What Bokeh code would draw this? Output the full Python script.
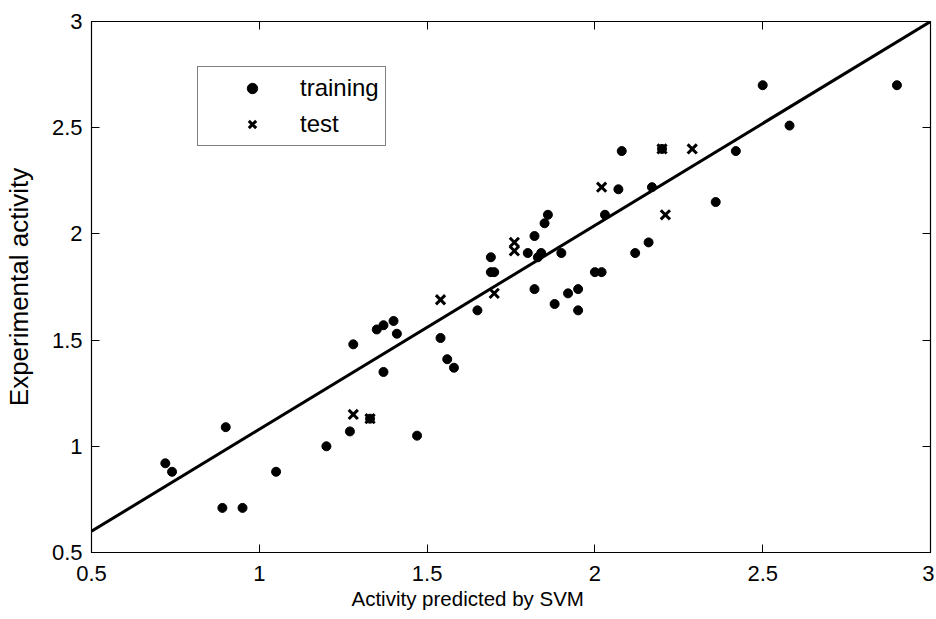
from bokeh.plotting import figure
from bokeh.models import (Range1d, LinearAxis, FixedTicker, Legend, LegendItem, Title, CustomJSTickFormatter)
from bokeh.embed import file_html
from bokeh.resources import INLINE

train_x = [0.72, 0.74, 0.89, 0.95, 0.90, 1.05, 1.20, 1.27, 1.28, 1.35, 1.37, 1.40, 1.41, 1.37,
           1.47, 1.54, 1.56, 1.58, 1.65, 1.69, 1.69, 1.70, 1.80, 1.82, 1.82, 1.83, 1.84, 1.85,
           1.86, 1.90, 1.88, 1.92, 1.95, 1.95, 2.00, 2.02, 2.03, 2.07, 2.08, 2.12, 2.16, 2.17,
           2.36, 2.42, 2.50, 2.58, 2.90, 1.33, 2.20]
train_y = [0.92, 0.88, 0.71, 0.71, 1.09, 0.88, 1.00, 1.07, 1.48, 1.55, 1.57, 1.59, 1.53, 1.35,
           1.05, 1.51, 1.41, 1.37, 1.64, 1.89, 1.82, 1.82, 1.91, 1.99, 1.74, 1.89, 1.91, 2.05,
           2.09, 1.91, 1.67, 1.72, 1.74, 1.64, 1.82, 1.82, 2.09, 2.21, 2.39, 1.91, 1.96, 2.22,
           2.15, 2.39, 2.70, 2.51, 2.70, 1.13, 2.40]
test_x = [1.28, 1.33, 1.54, 1.70, 1.76, 1.76, 2.02, 2.20, 2.21, 2.29]
test_y = [1.15, 1.13, 1.69, 1.72, 1.96, 1.92, 2.22, 2.40, 2.09, 2.40]
fit_x = [0.5, 3.0]
fit_y = [0.6, 3.0]
ticks = [0.5, 1.0, 1.5, 2.0, 2.5, 3.0]

FONT = "Liberation Sans"

p = figure(width=934, height=616, output_backend="svg", toolbar_location=None,
           x_range=Range1d(0.5, 3.0), y_range=Range1d(0.5, 3.0),
           min_border_left=91, min_border_right=4, min_border_top=21, min_border_bottom=64)
p.grid.visible = False
p.outline_line_color = "black"
p.outline_line_width = 1.2

p.xaxis.ticker = FixedTicker(ticks=ticks)
p.yaxis.ticker = FixedTicker(ticks=ticks)
for ax in (p.xaxis[0], p.yaxis[0]):
    ax.major_tick_in = 8
    ax.major_tick_out = 0
    ax.minor_tick_in = 0
    ax.minor_tick_out = 0
    ax.axis_line_color = "black"
    ax.major_tick_line_color = "black"
    ax.major_label_text_font = FONT
    ax.major_label_text_font_size = "22px"
    ax.major_label_text_color = "black"
p.xaxis.major_label_standoff = 13
p.yaxis.major_label_standoff = 9
fmt = CustomJSTickFormatter(code="return tick == Math.round(tick) ? tick.toFixed(0) : tick.toFixed(1);")
p.xaxis.formatter = fmt
p.yaxis.formatter = fmt

p.yaxis.axis_label = "Experimental activity"
p.yaxis.axis_label_text_font = FONT
p.yaxis.axis_label_text_font_size = "26px"
p.yaxis.axis_label_text_font_style = "normal"
p.yaxis.axis_label_text_color = "black"
p.yaxis.axis_label_standoff = 15

blank = CustomJSTickFormatter(code="return '';")
top = LinearAxis(ticker=FixedTicker(ticks=ticks), formatter=blank, major_tick_in=8, major_tick_out=0,
                 minor_tick_in=0, minor_tick_out=0, major_label_standoff=0,
                 major_label_text_font_size="0px", axis_line_color="black")
right = LinearAxis(ticker=FixedTicker(ticks=ticks), formatter=blank, major_tick_in=8, major_tick_out=0,
                   minor_tick_in=0, minor_tick_out=0, major_label_standoff=0,
                   major_label_text_font_size="0px", axis_line_color="black")
p.add_layout(top, "above")
p.add_layout(right, "right")

fit = p.line(fit_x, fit_y, line_color="black", line_width=3)
tr = p.scatter(train_x, train_y, marker="circle", size=9, fill_color="black", line_color="black")
te = p.scatter(test_x, test_y, marker="x", size=13, line_color="black", line_width=3)

legend = Legend(items=[LegendItem(label="training", renderers=[tr]),
                       LegendItem(label="test", renderers=[te])],
                location=(106, 406), orientation="vertical",
                label_text_font=FONT, label_text_font_size="24px", label_text_color="black",
                glyph_width=96, glyph_height=26, label_height=30, label_standoff=0,
                padding=6, spacing=6, margin=0,
                border_line_color="black", border_line_width=1.2,
                background_fill_color="white", background_fill_alpha=1.0)
p.add_layout(legend, "center")

xlab = Title(text="Activity predicted by SVM", align="left", offset=260,
             text_font=FONT, text_font_size="20.5px", text_font_style="normal",
             text_color="black", standoff=3)
p.add_layout(xlab, "below")

open("out.html", "w").write(file_html(p, INLINE))
